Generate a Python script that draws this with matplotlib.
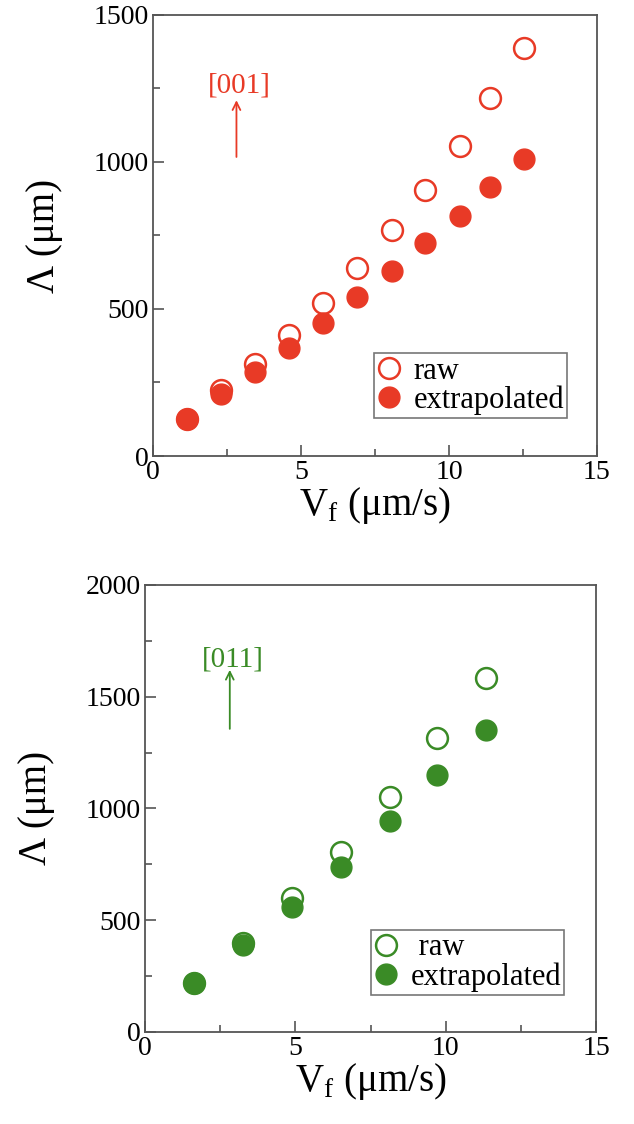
import matplotlib
matplotlib.use("Agg")
import matplotlib.pyplot as plt
from matplotlib.ticker import MultipleLocator

plt.rcParams['font.family'] = ['Liberation Serif', 'DejaVu Serif']
plt.rcParams['mathtext.fontset'] = 'custom'
plt.rcParams['mathtext.rm'] = 'Liberation Serif'

# [001] growth direction
v_001 = [1.15, 2.3, 3.45, 4.6, 5.75, 6.9, 8.07, 9.2, 10.38, 11.38, 12.53]
raw_001 = [127, 226, 313, 412, 522, 638, 768, 906, 1053, 1217, 1387]
ext_001 = [127, 210, 285, 367, 452, 540, 629, 723, 816, 915, 1011]

# [011] growth direction
v_011 = [1.62, 3.27, 4.89, 6.52, 8.15, 9.71, 11.34]
raw_011 = [220, 398, 598, 803, 1050, 1317, 1584]
ext_011 = [220, 387, 559, 740, 945, 1151, 1351]

red = '#e83a26'
green = '#3a8b26'
spine_col = '#555555'

fig = plt.figure(figsize=(6.34, 11.24), dpi=100)
ax1 = fig.add_axes([0.2413, 0.5943, 0.7003, 0.3924])
ax2 = fig.add_axes([0.2287, 0.0819, 0.7114, 0.3977])


def draw_panel(ax, v, raw, ext, col, ymax, label, arrow_y, text_gap,
               legend_xy, raw_name):
    # open circles for raw values, filled ones for the extrapolated values
    ax.plot(v, raw, 'o', ms=15, mfc='white', mec=col, mew=1.8, ls='none',
            label=raw_name)
    ax.plot(v, ext, 'o', ms=15, mfc=col, mec=col, ls='none',
            label='extrapolated')

    ax.set_xlim(0, 15)
    ax.set_ylim(0, ymax)
    ax.xaxis.set_major_locator(MultipleLocator(5))
    ax.xaxis.set_minor_locator(MultipleLocator(2.5))
    ax.yaxis.set_major_locator(MultipleLocator(500))
    ax.yaxis.set_minor_locator(MultipleLocator(250))
    ax.tick_params(which='both', direction='in', top=False, right=False,
                   color=spine_col, width=1.2, labelsize=20, pad=3)
    ax.tick_params(which='major', length=8)
    ax.tick_params(which='minor', length=5)
    for s in ax.spines.values():
        s.set_color(spine_col)
        s.set_linewidth(1.3)

    ax.set_xlabel(r'V$_\mathregular{f}$ (μm/s)', fontsize=28, labelpad=0)
    ax.set_ylabel('Λ (μm)', fontsize=28, labelpad=22)

    ax.annotate('', xy=(2.82, arrow_y[1]), xytext=(2.82, arrow_y[0]),
                arrowprops=dict(arrowstyle='->', color=col, lw=1.3,
                                mutation_scale=14, shrinkA=0, shrinkB=0))
    ax.text(2.93, arrow_y[1] + text_gap, label, color=col, fontsize=21,
            ha='center', va='bottom')

    leg = ax.legend(loc='lower left', bbox_to_anchor=legend_xy, fontsize=22,
                    frameon=True, fancybox=False, handletextpad=0.4,
                    borderpad=0.1, labelspacing=0.0, handlelength=0.8,
                    borderaxespad=0)
    leg.get_frame().set_edgecolor(spine_col)
    leg.get_frame().set_linewidth(1.2)


draw_panel(ax1, v_001, raw_001, ext_001, red, 1500, '[001]', (1017, 1210),
           5, (0.498, 0.086), 'raw')
draw_panel(ax2, v_011, raw_011, ext_011, green, 2000, '[011]', (1356, 1620),
           -10, (0.501, 0.083), ' raw')

fig.savefig('out.png', dpi=100)
